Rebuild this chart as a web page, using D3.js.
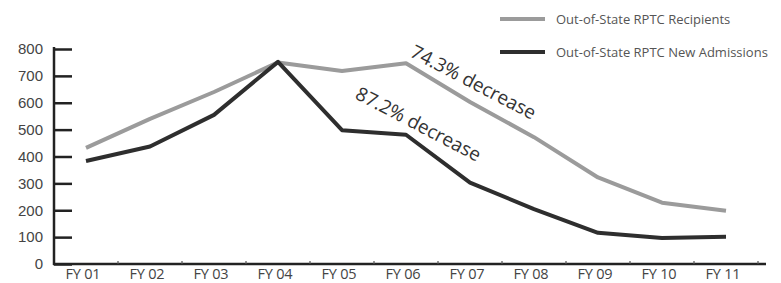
<!DOCTYPE html>
<meta charset="utf-8">
<style>
body { margin: 0; background: #fff; }
svg { display: block; font-family: "Open Sans", sans-serif; }
.line { fill: none; stroke-width: 4px; stroke-linejoin: round; }
</style>
<body>
<svg width="781" height="283"></svg>
<script src="https://cdn.jsdelivr.net/npm/d3@7"></script>
<script>
// data
var years = ["FY 01","FY 02","FY 03","FY 04","FY 05","FY 06","FY 07","FY 08","FY 09","FY 10","FY 11"];
var recipients = [432, 540, 640, 750, 718, 747, 603, 472, 322, 228, 198];
var admissions = [383, 437, 555, 752, 498, 481, 303, 204, 116, 97, 101];
var yTicks = [0, 100, 200, 300, 400, 500, 600, 700, 800];
var seriesNames = ["Out-of-State RPTC Recipients", "Out-of-State RPTC New Admissions"];
var seriesColors = ["#9b9b9b", "#2e2e2e"];

var svg = d3.select("svg");

var x = d3.scaleBand().domain(years).range([54, 758]);
var y = d3.scaleLinear().domain([0, 800]).range([264, 49]);

// y axis, ticks pointing into the plot
var yAxis = svg.append("g")
    .attr("transform", "translate(54,0)")
    .call(d3.axisRight(y).tickValues(yTicks).tickSize(18).tickFormat(d3.format("d")));
yAxis.select(".domain").attr("stroke", "#222").attr("stroke-width", 2.5).attr("d", "M0,47V265");
yAxis.selectAll(".tick line").attr("stroke", "#222").attr("stroke-width", 2.5);
yAxis.selectAll(".tick text")
    .attr("x", -11).attr("text-anchor", "end")
    .attr("fill", "#444").style("font-size", "15px");

// x axis with little ticks at the band edges
var xAxis = svg.append("g").attr("transform", "translate(0,264)");
xAxis.append("line").attr("x1", 53).attr("x2", 766).attr("stroke", "#222").attr("stroke-width", 2.5);
xAxis.selectAll(".edge")
    .data(years)
    .enter().append("line")
    .attr("x1", function(d) { return x(d) + x.bandwidth(); })
    .attr("x2", function(d) { return x(d) + x.bandwidth(); })
    .attr("y1", 0).attr("y2", -3)
    .attr("stroke", "#555").attr("stroke-width", 1.2);
xAxis.selectAll(".lab")
    .data(years)
    .enter().append("text")
    .attr("x", function(d) { return x(d) + x.bandwidth() / 2 - 3; })
    .attr("y", 14.5)
    .attr("text-anchor", "middle")
    .attr("fill", "#444").style("font-size", "14.5px")
    .style("letter-spacing", "-0.2px")
    .text(function(d) { return d; });

var line = d3.line()
    .x(function(d, i) { return x(years[i]) + x.bandwidth() / 2; })
    .y(function(d) { return y(d); });

svg.append("path").attr("class", "line").attr("stroke", seriesColors[0]).attr("stroke-width", 3.6).attr("d", line(recipients));
svg.append("path").attr("class", "line").attr("stroke", seriesColors[1]).attr("d", line(admissions));

// legend
var legend = svg.selectAll(".legend")
    .data(seriesNames)
    .enter().append("g")
    .attr("transform", function(d, i) { return "translate(500," + (19 + i * 33) + ")"; });
legend.append("line").attr("x1", 0).attr("x2", 45)
    .attr("stroke", function(d, i) { return seriesColors[i]; }).attr("stroke-width", 4);
legend.append("text").attr("x", 56).attr("y", 5)
    .attr("fill", "#555").style("font-size", "13px")
    .text(function(d) { return d; });

// annotations
svg.append("text")
    .attr("transform", "translate(409,56) rotate(27.5)")
    .attr("fill", "#333").style("font-size", "19px")
    .text("74.3% decrease");
svg.append("text")
    .attr("transform", "translate(354,98) rotate(27.5)")
    .attr("fill", "#333").style("font-size", "19px")
    .text("87.2% decrease");
</script>
</body>
